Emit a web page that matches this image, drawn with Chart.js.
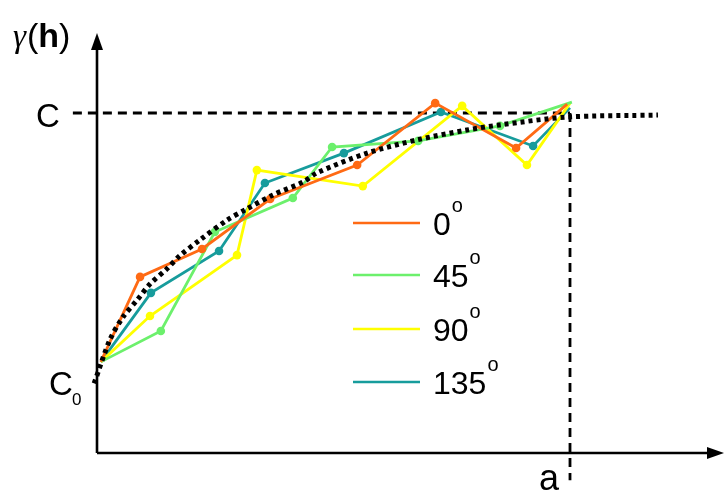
<!DOCTYPE html>
<html>
<head>
<meta charset="utf-8">
<script src="https://cdn.jsdelivr.net/npm/chart.js@4.4.1/dist/chart.umd.min.js"></script>
<style>
  html, body { margin: 0; padding: 0; background: #fff; }
  #chart { display: block; }
</style>
</head>
<body>
<canvas id="chart" width="725" height="492"></canvas>
<script>
// Lag h (units where range a = 10) and semivariance gamma (units where sill C = 10)
const sill = 10;
const range = 10;

const lag0 = [0.08, 0.91, 2.22, 3.66, 5.50, 7.15, 8.86, 9.94];
const gamma0 = [2.68, 5.18, 6.00, 7.47, 8.47, 10.29, 8.97, 10.26];

const lag45 = [0.08, 1.35, 2.49, 4.14, 4.97, 6.79, 8.52, 10.04];
const gamma45 = [2.68, 3.59, 6.50, 7.50, 9.00, 9.18, 9.62, 10.32];

const lag90 = [0.08, 1.12, 2.96, 3.38, 5.62, 7.72, 9.09, 10.00];
const gamma90 = [2.68, 4.03, 5.82, 8.32, 7.85, 10.21, 8.47, 10.29];

const lag135 = [0.08, 1.14, 2.58, 3.55, 5.22, 7.27, 9.22, 10.00];
const gamma135 = [2.68, 4.71, 5.94, 7.94, 8.82, 10.03, 9.03, 10.15];

// fitted model curve (dotted)
const modelLag = [-0.06, 0.27, 0.55, 0.85, 1.12, 1.48, 1.75, 2.18, 2.75, 3.13, 3.72, 4.36, 4.65, 5.71, 6.77, 7.82, 8.52, 9.94, 11.86];
const modelGamma = [2.05, 3.32, 4.00, 4.50, 4.97, 5.42, 5.80, 6.27, 6.85, 7.15, 7.59, 7.97, 8.24, 8.82, 9.21, 9.50, 9.65, 9.88, 9.94];

const seriesLabels = ['0', '45', '90', '135'];
const seriesColors = ['#ff6a14', '#6cf06c', '#ffff00', '#179c9c'];

function toPoints(xs, ys) {
    return xs.map((x, i) => ({ x: x, y: ys[i] }));
}

const lagSets = [lag0, lag45, lag90, lag135];
const gammaSets = [gamma0, gamma45, gamma90, gamma135];

const datasets = [];

// dotted model on top
datasets.push({
    data: toPoints(modelLag, modelGamma),
    borderColor: '#000',
    borderWidth: 5,
    borderDash: [4, 4],
    pointRadius: 0,
    showLine: true,
    tension: 0.3,
    order: 0
});

for (let i = 0; i < 4; i++) {
    const n = lagSets[i].length;
    datasets.push({
        data: toPoints(lagSets[i], gammaSets[i]),
        borderColor: seriesColors[i],
        backgroundColor: seriesColors[i],
        borderWidth: 2.8,
        pointRadius: (ctx) => (ctx.dataIndex === 0 || ctx.dataIndex === n - 1) ? 0 : 4.3,
        pointBorderWidth: 0,
        showLine: true,
        tension: 0,
        order: 1
    });
}

// sill line and range line (dashed)
datasets.push({
    data: [{ x: -0.51, y: sill }, { x: range, y: sill }],
    borderColor: '#000',
    borderWidth: 2.8,
    borderDash: [9, 6],
    pointRadius: 0,
    showLine: true,
    order: 2
});
datasets.push({
    data: [{ x: range, y: sill }, { x: range, y: -0.8 }],
    borderColor: '#000',
    borderWidth: 2.8,
    borderDash: [9, 6],
    pointRadius: 0,
    showLine: true,
    order: 2
});

// axes, arrows and labels
const decorations = {
    id: 'decorations',
    beforeDatasetsDraw(chart) {
        const ctx = chart.ctx;
        const xs = chart.scales.x;
        const ys = chart.scales.y;
        const ox = xs.getPixelForValue(0);
        const oy = ys.getPixelForValue(0);
        ctx.save();
        ctx.strokeStyle = '#000';
        ctx.fillStyle = '#000';
        ctx.lineWidth = 2.6;
        ctx.beginPath();
        ctx.moveTo(ox, oy);
        ctx.lineTo(ox, 48);
        ctx.moveTo(ox, oy);
        ctx.lineTo(708, oy);
        ctx.stroke();
        // arrow heads
        ctx.beginPath();
        ctx.moveTo(ox, 33);
        ctx.lineTo(ox - 6, 50);
        ctx.lineTo(ox + 6, 50);
        ctx.closePath();
        ctx.fill();
        ctx.beginPath();
        ctx.moveTo(724, oy);
        ctx.lineTo(707, oy - 6);
        ctx.lineTo(707, oy + 6);
        ctx.closePath();
        ctx.fill();
        ctx.restore();
    },
    afterDraw(chart) {
        const ctx = chart.ctx;
        const xs = chart.scales.x;
        const ys = chart.scales.y;
        const font = '"Liberation Sans", Arial, sans-serif';
        ctx.save();
        ctx.fillStyle = '#000';
        ctx.textBaseline = 'alphabetic';
        ctx.textAlign = 'left';

        // gamma(h)
        let x = 13;
        ctx.font = 'italic 33px "Liberation Serif", serif';
        ctx.fillText('\u03b3', x, 47);
        x += ctx.measureText('\u03b3').width + 1;
        ctx.font = '34px ' + font;
        ctx.fillText('(', x, 47);
        x += ctx.measureText('(').width;
        ctx.font = 'bold 34px ' + font;
        ctx.fillText('h', x, 47);
        x += ctx.measureText('h').width;
        ctx.font = '34px ' + font;
        ctx.fillText(')', x, 47);

        // C
        ctx.font = '33px ' + font;
        ctx.fillText('C', 36, ys.getPixelForValue(sill) + 14);

        // C0
        ctx.fillText('C', 49, 395);
        ctx.font = '17px ' + font;
        ctx.fillText('0', 72, 405);

        // a
        ctx.font = '36px ' + font;
        ctx.fillText('a', xs.getPixelForValue(range) - 31, 490);

        // legend
        const rowsY = [223, 275, 329, 382];
        for (let i = 0; i < seriesLabels.length; i++) {
            const ly = rowsY[i];
            ctx.strokeStyle = seriesColors[i];
            ctx.lineWidth = 2.5;
            ctx.beginPath();
            ctx.moveTo(353, ly);
            ctx.lineTo(420, ly);
            ctx.stroke();
            ctx.font = '32px ' + font;
            ctx.fillText(seriesLabels[i], 433, ly + 12);
            const w = ctx.measureText(seriesLabels[i]).width;
            ctx.font = '20px ' + font;
            ctx.fillText('o', 433 + w + 1, ly - 11);
        }
        ctx.restore();
    }
};

new Chart(document.getElementById('chart'), {
    type: 'scatter',
    data: { datasets: datasets },
    options: {
        responsive: false,
        animation: false,
        devicePixelRatio: 1,
        layout: { padding: 0 },
        plugins: {
            legend: { display: false },
            tooltip: { enabled: false }
        },
        scales: {
            x: { type: 'linear', display: false, min: -97 / 47.3, max: 628 / 47.3 },
            y: { type: 'linear', display: false, min: -39 / 34, max: 453 / 34 }
        }
    },
    plugins: [decorations]
});
</script>
</body>
</html>
